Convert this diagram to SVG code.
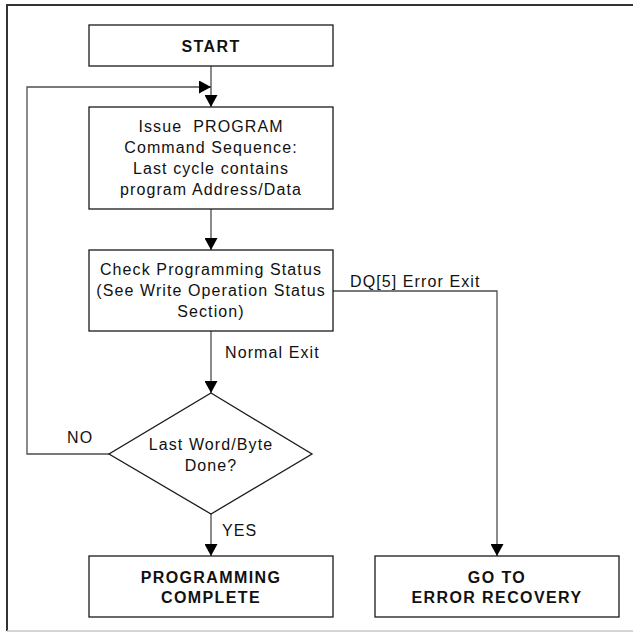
<svg xmlns="http://www.w3.org/2000/svg" width="633" height="637" viewBox="0 0 633 637">
<style>
  .box { fill: #ffffff; stroke: #1a1a1a; stroke-width: 1.3; }
  .conn { fill: none; stroke: #4d4d4d; stroke-width: 1.3; }
  .t { font-family: "Liberation Sans", Arial, sans-serif; font-size: 16px; letter-spacing: 1.1px; fill: #111; text-anchor: middle; }
  .tl { font-family: "Liberation Sans", Arial, sans-serif; font-size: 16px; letter-spacing: 1.1px; fill: #111; text-anchor: start; }
  .b { font-family: "Liberation Sans", Arial, sans-serif; font-size: 16px; font-weight: bold; letter-spacing: 1.4px; fill: #111; text-anchor: middle; }
</style>
<defs>
  <marker id="arrow" viewBox="0 0 12 13" refX="12" refY="6.5" markerWidth="12" markerHeight="13" markerUnits="userSpaceOnUse" orient="auto">
    <path d="M0,0 L12,6.5 L0,13 Z" fill="#000"/>
  </marker>
</defs>
<rect width="633" height="637" fill="#ffffff"/>
<g id="frame">
  <path d="M633,5 L7,5 L7,631" fill="none" stroke="#333" stroke-width="2"/>
  <path d="M7,631 L633,631" fill="none" stroke="#c8c8c8" stroke-width="1.5"/>
</g>
<g id="connectors">
  <path class="conn" d="M211,66 L211,107" marker-end="url(#arrow)"/>
  <path class="conn" d="M109,454 L27,454 L27,87 L211,87" marker-end="url(#arrow)"/>
  <path class="conn" d="M211,209 L211,250" marker-end="url(#arrow)"/>
  <path class="conn" d="M211,331 L211,393" marker-end="url(#arrow)"/>
  <path class="conn" d="M333,291 L497,291 L497,556" marker-end="url(#arrow)"/>
  <path class="conn" d="M211,514 L211,556" marker-end="url(#arrow)"/>
  <text class="tl" x="350" y="287">DQ[5] Error Exit</text>
  <text class="tl" x="225" y="358">Normal Exit</text>
  <text class="tl" x="67" y="443">NO</text>
  <text class="tl" x="222" y="536">YES</text>
</g>
<g id="start">
  <rect class="box" x="89" y="25" width="244" height="41"/>
  <text class="b" x="211" y="52">START</text>
</g>
<g id="issue">
  <rect class="box" x="89" y="107" width="244" height="102"/>
  <text class="t" x="211" y="132" xml:space="preserve">Issue  PROGRAM</text>
  <text class="t" x="211" y="153">Command Sequence:</text>
  <text class="t" x="211" y="174">Last cycle contains</text>
  <text class="t" x="211" y="195">program Address/Data</text>
</g>
<g id="check">
  <rect class="box" x="89" y="250" width="244" height="81"/>
  <text class="t" x="211" y="275">Check Programming Status</text>
  <text class="t" x="211" y="296">(See Write Operation Status</text>
  <text class="t" x="211" y="317">Section)</text>
</g>
<g id="decision">
  <polygon class="box" points="211,393 312,454 211,514 109,454"/>
  <text class="t" x="211" y="450">Last Word/Byte</text>
  <text class="t" x="211" y="471">Done?</text>
</g>
<g id="complete">
  <rect class="box" x="89" y="556" width="244" height="61"/>
  <text class="b" x="211" y="583">PROGRAMMING</text>
  <text class="b" x="211" y="603">COMPLETE</text>
</g>
<g id="error">
  <rect class="box" x="375" y="556" width="244" height="61"/>
  <text class="b" x="497" y="583">GO TO</text>
  <text class="b" x="497" y="603">ERROR RECOVERY</text>
</g>
</svg>
